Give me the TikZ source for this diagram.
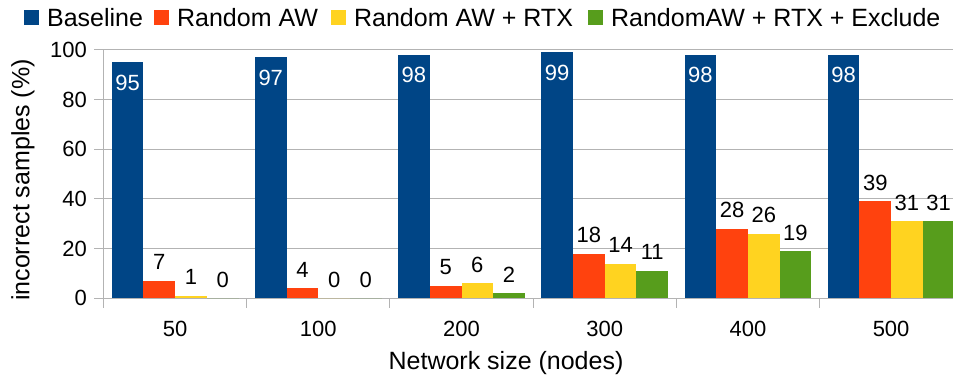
\documentclass[tikz,border=0pt]{standalone}
\usepackage{fontspec}
\setmainfont{Liberation Sans}
\usetikzlibrary{positioning}

\definecolor{cbase}{HTML}{004586}
\definecolor{crand}{HTML}{FF420E}
\definecolor{crtx}{HTML}{FFD320}
\definecolor{cexcl}{HTML}{579D1C}
\definecolor{cgrid}{HTML}{B3B3B3}

\tikzset{
  grid line/.style={cgrid,line width=1pt},
  tick label/.style={font=\fontsize{22}{26}\selectfont,inner sep=0pt},
  value label/.style={font=\fontsize{22}{26}\selectfont,inner sep=0pt,anchor=base},
  axis title/.style={font=\fontsize{25}{30}\selectfont,inner sep=0pt},
  legend box/.style={minimum size=15pt,inner sep=0pt,anchor=south west},
  legend text/.style={font=\fontsize{25}{30}\selectfont,inner sep=0pt}
}

\begin{document}
\begin{tikzpicture}[x=1pt,y=1pt]
    \useasboundingbox (0,0) rectangle (953,376);

    % Grid lines and y ticks
    \foreach \v in {0,20,...,100} {
        \draw[grid line] (94,{77.7+2.485*\v}) -- (953,{77.7+2.485*\v});
        \node[tick label,anchor=east] (ytick\v) at (87,{77.7+2.485*\v}) {\v};
    }

    % Axis line and category ticks
    \draw[grid line] (103.5,326.2) -- (103.5,68);
    \foreach \i in {1,...,5}
        \draw[grid line] ({103.5+143.2*\i},77.7) -- ({103.5+143.2*\i},68);

    % Bars with their values
    \foreach \cat/\a/\b/\c/\d [count=\i from 0] in
        {50/95/7/1/0, 100/97/4/0/0, 200/98/5/6/2,
         300/99/18/14/11, 400/98/28/26/19, 500/98/39/31/31} {
        \pgfmathsetmacro\catx{103.5+143.2*\i}
        \foreach \v/\col [count=\j from 0] in {\a/cbase,\b/crand,\c/crtx,\d/cexcl} {
            \pgfmathsetmacro\bx{\catx+8.2+31.7*\j}
            \fill[\col] (\bx,77.7) rectangle ({\bx+31.7},{77.7+2.485*\v});
            \ifnum\j=0
                \node[value label,white] (val\i-\j) at ({\bx+15.85},{77.7+2.485*\v-28.2}) {\v};
            \else
                \node[value label] (val\i-\j) at ({\bx+15.85},{77.7+2.485*\v+11}) {\v};
            \fi
        }
        \node[tick label,anchor=base] (xtick\i) at ({\catx+71.6},40) {\cat};
    }

    % Axis titles
    \node[axis title,anchor=base] (xtitle) at (506,7) {Network size (nodes)};
    \node[axis title,rotate=90] (ytitle) at (23,196) {incorrect samples (\%)};

    % Legend
    \node[legend box,fill=cbase] (keybase) at (24,351) {};
    \node[legend text,right=7.5pt of keybase] (txtbase) {Baseline};
    \node[legend box,fill=crand] (keyrand) at (154,351) {};
    \node[legend text,right=7.5pt of keyrand] (txtrand) {Random AW};
    \node[legend box,fill=crtx] (keyrtx) at (331,351) {};
    \node[legend text,right=7.5pt of keyrtx] (txtrtx) {Random AW + RTX};
    \node[legend box,fill=cexcl] (keyexcl) at (588,351) {};
    \node[legend text,right=7.5pt of keyexcl] (txtexcl) {RandomAW + RTX + Exclude};
\end{tikzpicture}
\end{document}
